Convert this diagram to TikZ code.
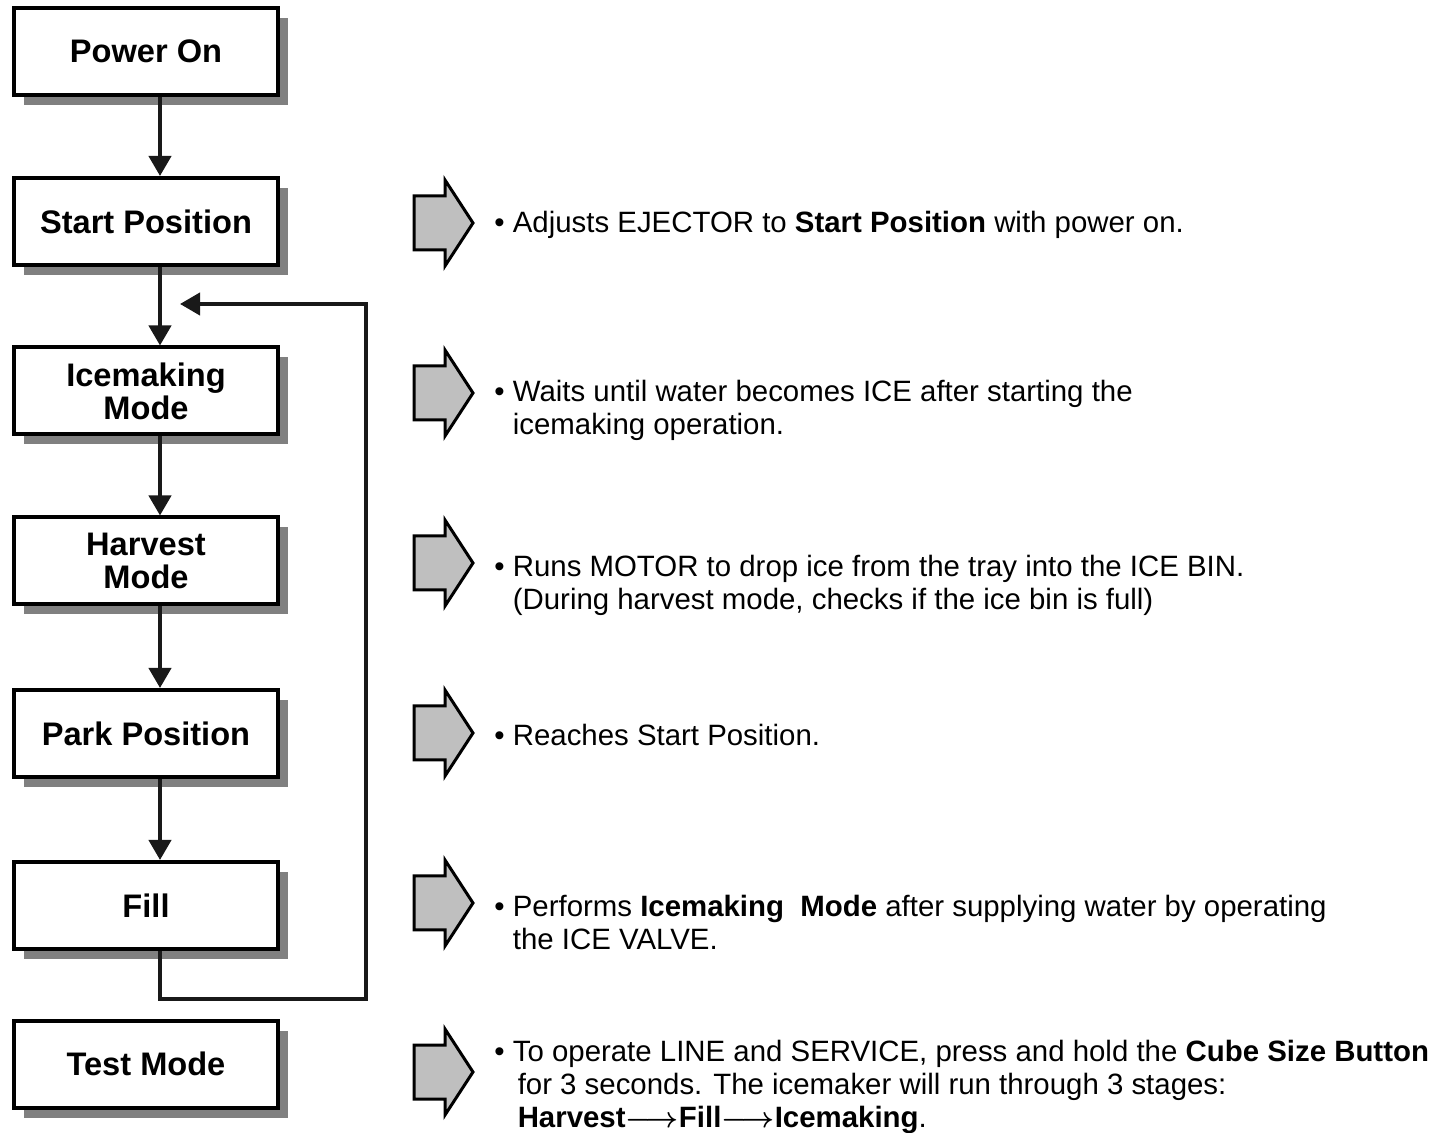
\documentclass[tikz,border=0pt]{standalone}
\usepackage{fontspec}
\setmainfont{Liberation Sans}
\usetikzlibrary{arrows.meta, shadows}

\begin{document}
\begin{tikzpicture}[
  x=0.5pt, y=-0.5pt,
  stage/.style={draw, line width=2pt, fill=white, minimum width=132pt, minimum height=43.5pt,
                align=center, font=\fontsize{16.3}{16.5}\selectfont\bfseries,
                drop shadow={shadow xshift=5pt, shadow yshift=-5pt, fill=black!50, opacity=1}},
  flow/.style={-{Triangle[length=10pt, width=11pt]}, line width=2pt, black!90},
  blockarr/.style={draw, line width=1.5pt, fill=black!25, line join=miter},
  note/.style={anchor=west, align=left, inner sep=0pt,
               font=\fontsize{14.7}{16.5}\selectfont}
]
\useasboundingbox (0,0) rectangle (1431,1133);

% flow chart boxes
\node[stage] (power)   at (146,51.5)  {Power On};
\node[stage] (start)   at (146,221.5) {Start Position};
\node[stage] (icemk)   at (146,391)   {Icemaking\\Mode};
\node[stage] (harvest) at (146,561)   {Harvest\\Mode};
\node[stage] (park)    at (146,733.5) {Park Position};
\node[stage] (fill)    at (146,905.5) {Fill};
\node[stage] (test)    at (146,1064)  {Test Mode};

\draw[flow] ([xshift=7pt]power.south)   -- ([xshift=7pt]start.north);
\draw[flow] ([xshift=7pt]start.south)   -- ([xshift=7pt]icemk.north);
\draw[flow] ([xshift=7pt]icemk.south)   -- ([xshift=7pt]harvest.north);
\draw[flow] ([xshift=7pt]harvest.south) -- ([xshift=7pt]park.north);
\draw[flow] ([xshift=7pt]park.south)    -- ([xshift=7pt]fill.north);

% loop back to icemaking
\coordinate (back)  at (366,999);
\coordinate (entry) at (180,304);
\draw[flow] ([xshift=7pt]fill.south) |- (back) |- (entry);

% grey arrows
\foreach \y in {223,393,563,733,903,1072}
  \draw[blockarr] (414,{\y-27}) -- (445,{\y-27}) -- (445,{\y-43}) -- (473,\y)
                  -- (445,{\y+43}) -- (445,{\y+27}) -- (414,{\y+27}) -- cycle;

% descriptions
\node[note] (dstart) at (494,225) {\textbullet\ Adjusts EJECTOR to \textbf{Start Position} with power on.};
\node[note] (dicemk) at (494,410.5) {\textbullet\ Waits until water becomes ICE after starting the\\
  \phantom{\textbullet\ }icemaking operation.};
\node[note] (dharv) at (494,585.5) {\textbullet\ Runs MOTOR to drop ice from the tray into the ICE BIN.\\
  \phantom{\textbullet\ }(During harvest mode, checks if the ice bin is full)};
\node[note] (dpark) at (494,735) {\textbullet\ Reaches Start Position.};
\node[note] (dfill) at (494,922.5) {\textbullet\ Performs \textbf{Icemaking\ \ Mode} after supplying water by operating\\
  \phantom{\textbullet\ }the ICE VALVE.};
\node[note] (dtest) at (494,1086.5) {\textbullet\ To operate LINE and SERVICE, press and hold the \textbf{Cube Size Button}\\
  \phantom{\textbullet\ }\,for 3 seconds. The icemaker will run through 3 stages:\\
  \phantom{\textbullet\ }\,\textbf{Harvest}{\boldmath$\longrightarrow$}\textbf{Fill}{\boldmath$\longrightarrow$}\textbf{Icemaking}.};
\end{tikzpicture}
\end{document}
